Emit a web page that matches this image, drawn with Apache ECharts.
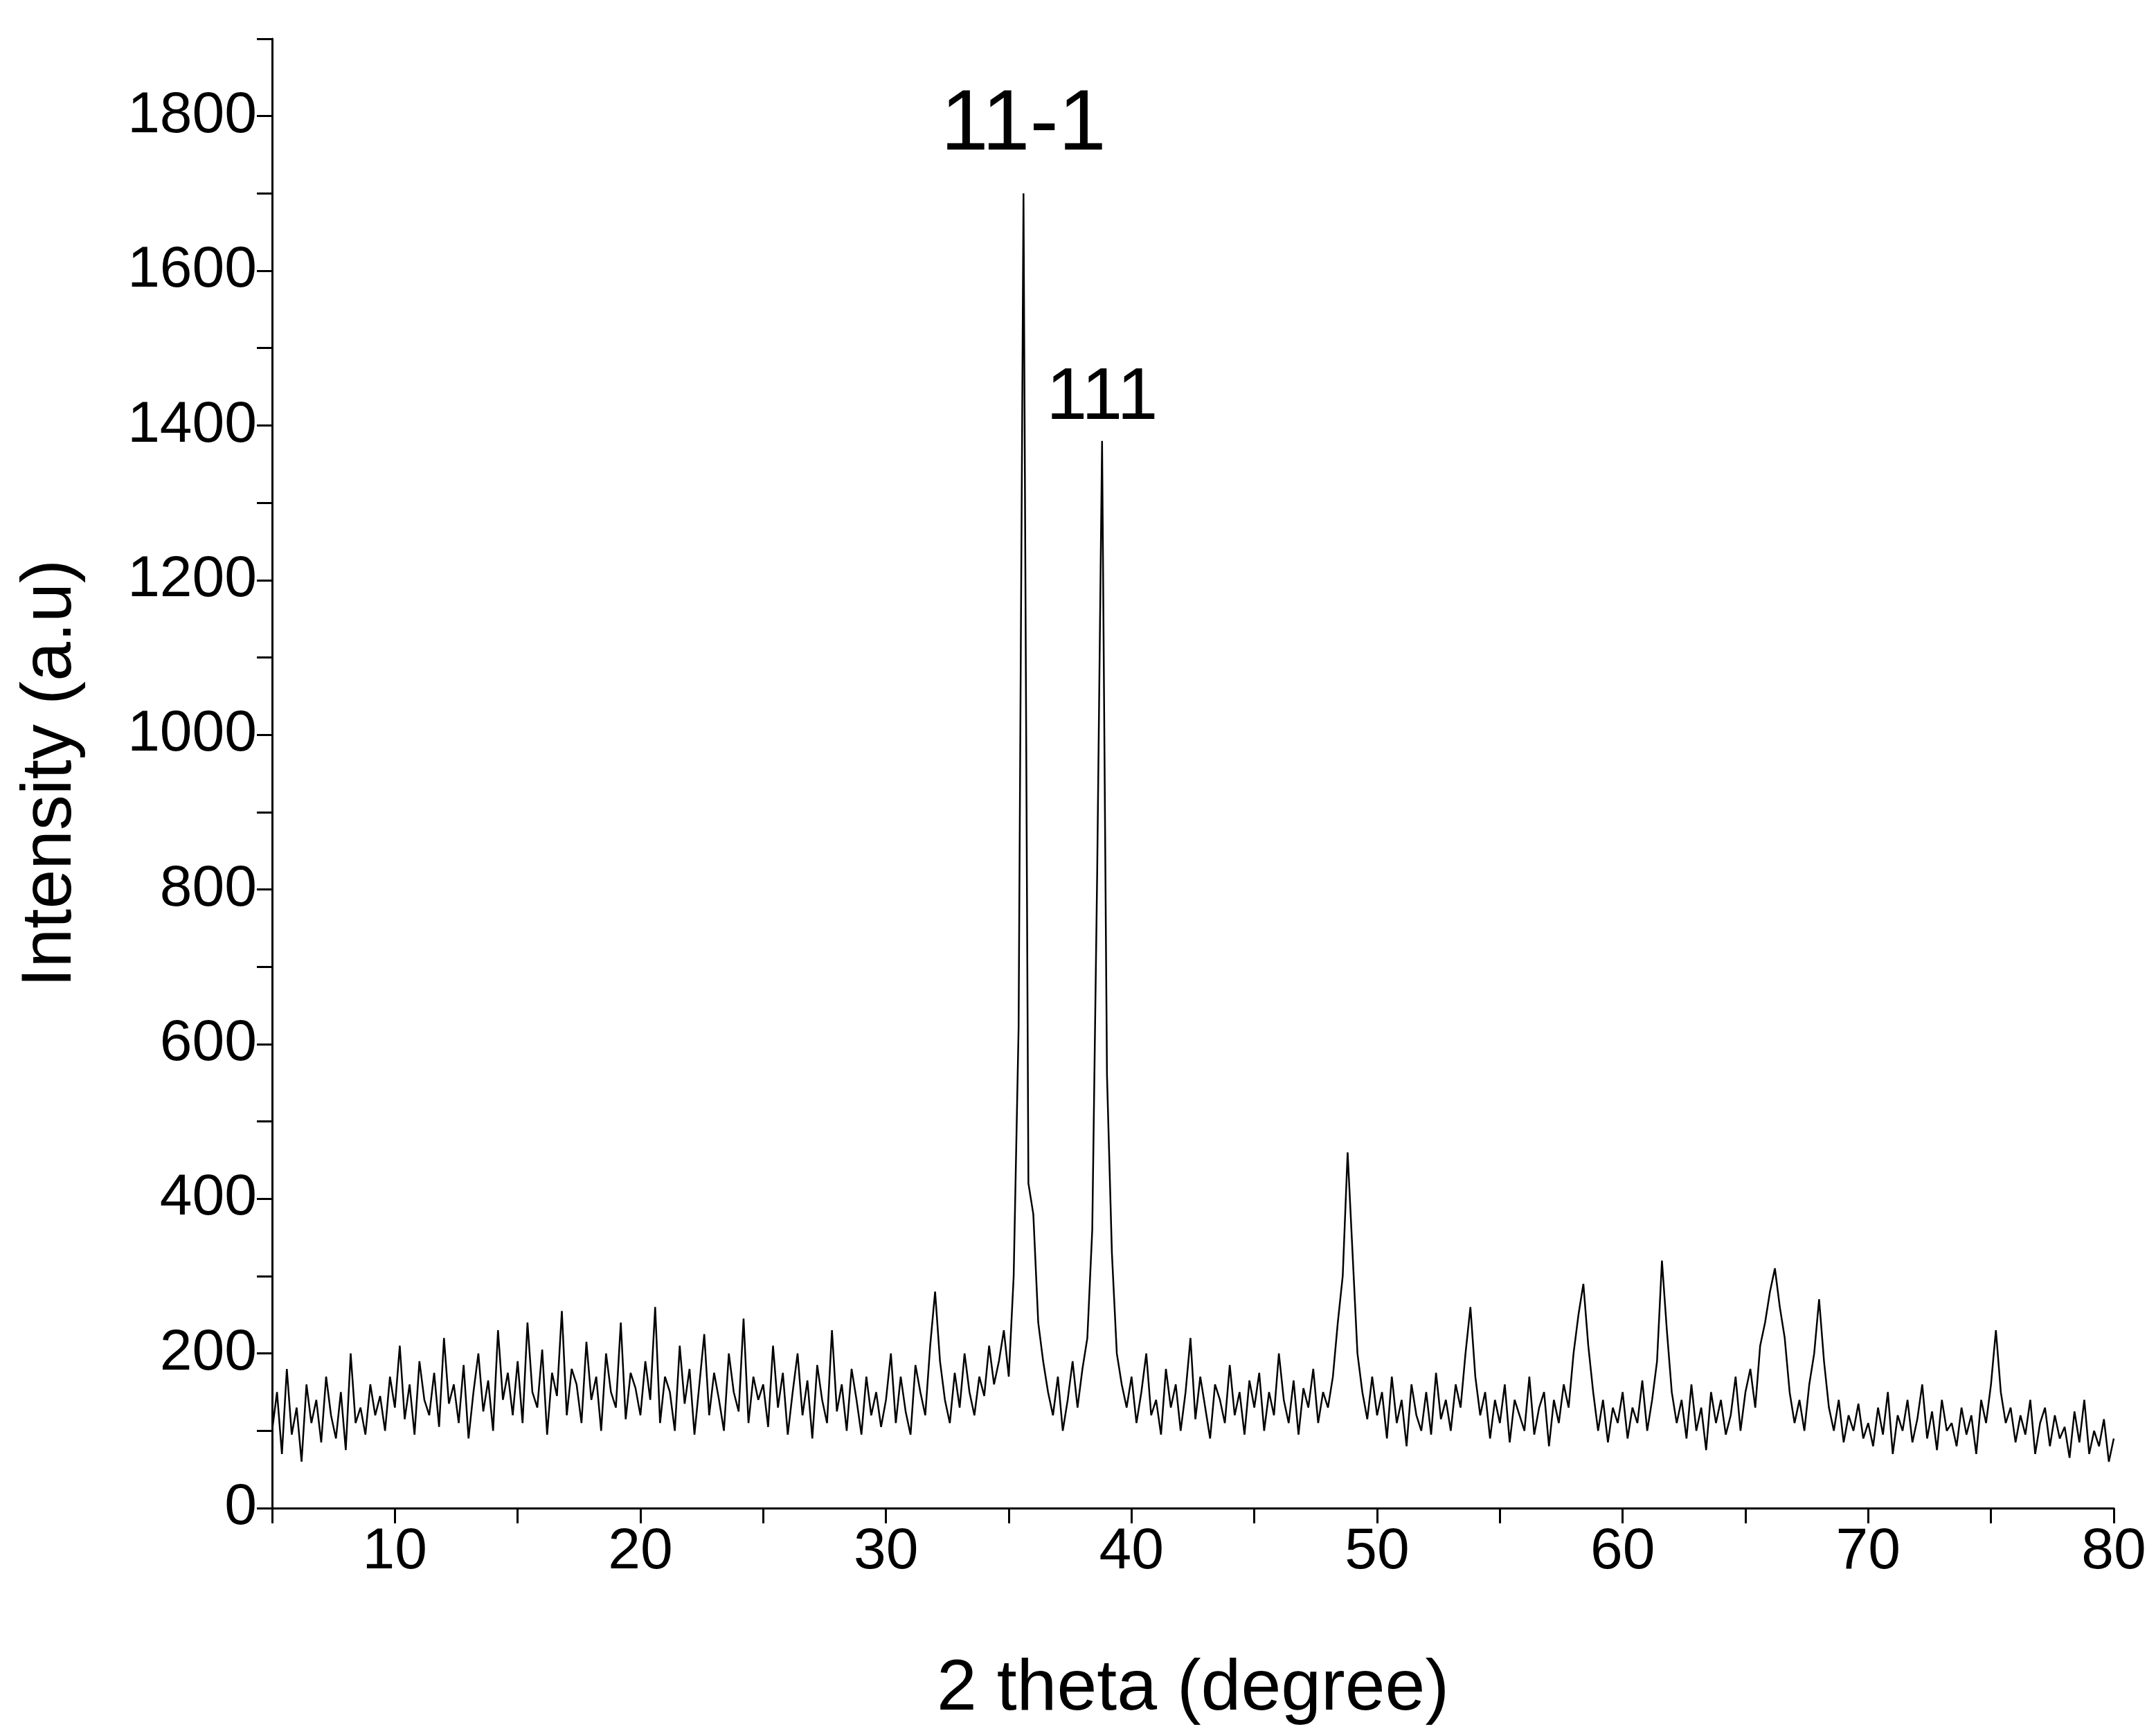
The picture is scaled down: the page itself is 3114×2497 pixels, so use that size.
<!DOCTYPE html>
<html><head><meta charset="utf-8">
<script src="https://cdn.jsdelivr.net/npm/echarts@6/dist/echarts.min.js"></script>
<style>html,body{margin:0;padding:0;background:#fff}#c{width:3114px;height:2497px}</style>
</head><body><div id="c"></div>
<script>
const xStart = 5, xStep = 0.2;
const intensity = [
100,150,70,180,95,130,60,160,110,140,85,170,120,90,150,75,200,110,130,95,160,120,145,100,170,
130,210,115,160,95,190,140,120,175,105,220,135,160,110,185,90,150,200,125,165,100,230,140,175,120,
190,110,240,150,130,205,95,175,145,255,120,180,160,110,215,140,170,100,200,150,130,240,115,175,155,
120,190,140,260,110,170,150,100,210,135,180,95,160,225,120,175,140,100,200,150,125,245,110,170,140,
160,105,210,130,175,95,150,200,120,165,90,185,140,110,230,125,160,100,180,140,95,170,120,150,105,
140,200,110,170,125,95,185,150,120,210,280,190,140,110,175,130,200,150,120,170,145,210,160,190,230,
170,300,620,1700,420,380,240,190,150,120,170,100,140,190,130,180,220,360,820,1380,560,330,200,160,130,
170,110,150,200,120,140,95,180,130,160,100,150,220,115,170,130,90,160,140,110,185,120,150,95,165,
130,175,100,150,120,200,140,110,165,95,155,130,180,110,150,130,170,240,300,460,330,200,150,115,170,
120,150,90,170,110,140,80,160,120,100,150,95,175,115,140,100,160,130,200,260,170,120,150,90,140,
110,160,85,140,120,100,170,95,130,150,80,140,110,160,130,200,250,290,210,150,100,140,85,130,110,
150,90,130,110,165,100,140,190,320,230,150,110,140,90,160,100,130,75,150,110,140,95,120,170,100,
150,180,130,210,240,280,310,260,220,150,110,140,100,160,200,270,190,130,100,140,85,120,100,135,90,
110,80,130,95,150,70,120,100,140,85,115,160,90,125,75,140,100,110,80,130,95,120,70,140,110,
160,230,150,110,130,85,120,95,140,70,110,130,80,120,90,105,65,125,85,140,70,100,80,115,60,
90];
const peakLabels = [{x:35.6, y:1700, text:'11-1', size:124, dist:36}, {x:38.8, y:1380, text:'111', size:106, dist:8}];
const data = intensity.map((v,i)=>[+(xStart + i*xStep).toFixed(1), v]);
const F = 'Liberation Sans, Arial, sans-serif';
const chart = echarts.init(document.getElementById('c'));
chart.setOption({
  animation:false,
  grid:{left:393,right:61,top:56,bottom:302},
  xAxis:{type:'value',min:5,max:80,interval:5,
    name:'2 theta (degree)',nameLocation:'middle',nameGap:210,
    nameTextStyle:{fontFamily:F,fontSize:104,color:'#000'},
    axisLine:{lineStyle:{color:'#000',width:3}},
    axisTick:{length:22,lineStyle:{color:'#000',width:3}},
    axisLabel:{fontFamily:F,fontSize:84,color:'#000',margin:22,
      formatter:v=> v%10===0 ? String(v) : ''},
    splitLine:{show:false}},
  yAxis:{type:'value',min:0,max:1900,interval:100,
    name:'Intensity (a.u)',nameLocation:'middle',nameGap:268,
    nameTextStyle:{fontFamily:F,fontSize:102,color:'#000'},
    axisLine:{show:true,lineStyle:{color:'#000',width:3}},
    axisTick:{length:22,lineStyle:{color:'#000',width:3}},
    axisLabel:{fontFamily:F,fontSize:84,color:'#000',margin:22,
      formatter:v=> v%200===0 ? String(v) : ''},
    splitLine:{show:false}},
  series:[{type:'line',data:data,symbol:'none',
    lineStyle:{color:'#000',width:2.5},
    markPoint:{symbol:'circle',symbolSize:0,
      data:peakLabels.map(p=>({coord:[p.x,p.y],
        label:{show:true,formatter:p.text,position:'top',distance:p.dist,
          fontFamily:F,fontSize:p.size,color:'#000'}}))}}]
});
</script></body></html>
